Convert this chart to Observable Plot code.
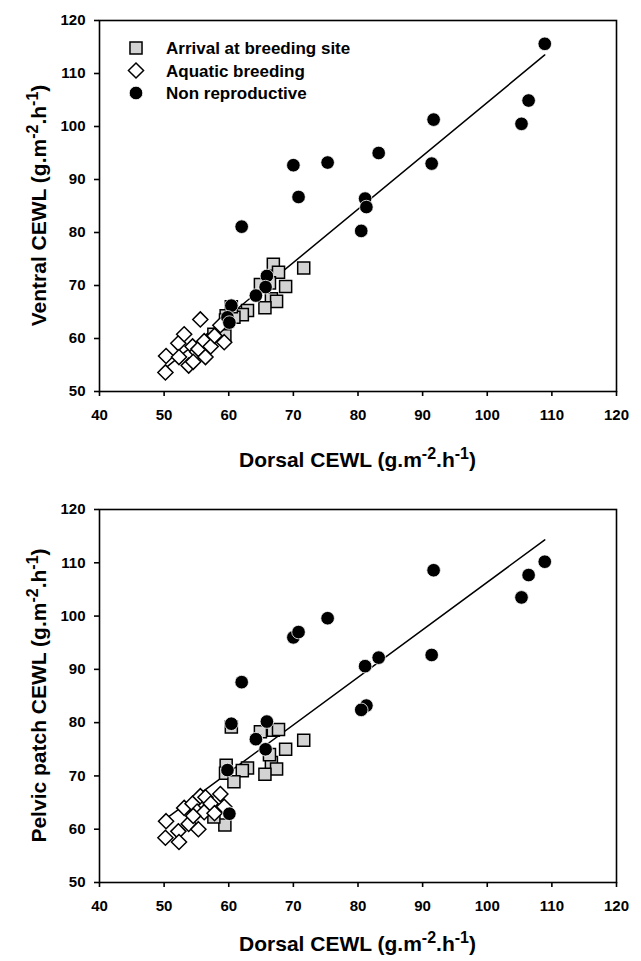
<!DOCTYPE html>
<html><head><meta charset="utf-8">
<script src="https://cdn.jsdelivr.net/npm/d3@7"></script>
<script src="https://cdn.jsdelivr.net/npm/@observablehq/plot@0.6"></script>
<style>body{margin:0;background:#fff;} svg{display:block}</style>
</head><body><div id="chart"></div>
<script>
// ---- data ----
const xTicks = [40, 50, 60, 70, 80, 90, 100, 110, 120];
const yTicks = [50, 60, 70, 80, 90, 100, 110, 120];
const seriesNames = ["Arrival at breeding site", "Aquatic breeding", "Non reproductive"];

const dorsalArr  = [66.9, 67.7, 64.9, 71.6, 68.8, 66.6, 67.4, 65.6, 62.9, 62.1, 59.6, 59.5, 60.8, 60.4, 59.4, 57.7, 66.3];
const ventralArr = [74.0, 72.5, 70.2, 73.3, 69.8, 67.5, 67.0, 65.8, 65.3, 64.5, 64.3, 63.5, 64.0, 66.0, 60.5, 60.8, 70.5];
const pelvicArr  = [78.6, 78.7, 78.3, 76.7, 75.0, 72.5, 71.3, 70.3, 71.5, 71.0, 72.0, 70.5, 68.9, 79.2, 60.8, 62.3, 74.0];

const dorsalAq  = [50.2, 50.3, 52.2, 52.3, 53.1, 53.8, 54.4, 55.1, 55.3, 55.6, 56.4, 56.2, 57.2, 57.8, 58.7, 59.3, 54.5];
const ventralAq = [53.6, 56.7, 59.1, 56.5, 60.8, 54.9, 58.5, 57.5, 58.0, 63.6, 56.5, 59.5, 58.5, 60.5, 62.5, 59.3, 55.6];
const pelvicAq  = [58.4, 61.5, 59.6, 57.6, 64.0, 61.0, 64.8, 63.3, 60.0, 66.2, 66.0, 63.2, 64.8, 63.0, 66.6, 64.2, 62.5];

const dorsalNR  = [108.9, 106.4, 105.3, 91.7, 91.4, 83.2, 81.1, 81.3, 80.5, 70.0, 70.8, 75.3, 62.0, 65.9, 65.7, 64.2, 60.4, 59.8, 60.1];
const ventralNR = [115.6, 104.9, 100.5, 101.3, 93.0, 95.0, 86.4, 84.8, 80.3, 92.7, 86.7, 93.2, 81.1, 71.8, 69.7, 68.1, 66.2, 64.0, 63.0];
const pelvicNR  = [110.2, 107.7, 103.5, 108.6, 92.7, 92.2, 90.6, 83.2, 82.4, 96.0, 97.0, 99.6, 87.6, 80.2, 75.0, 76.9, 79.8, 71.1, 62.9];

// regression line ends
const fitX = [50.3, 108.9];
const ventralFit = [54.5, 113.5];
const pelvicFit = [62.0, 114.3];

// ---- styles ----
const FONT = "'Liberation Sans', Arial, Helvetica, sans-serif";
const sq = {symbol: "square", r: 6.8, fill: "#d3d3d3", stroke: "black", strokeWidth: 1.5};
const dm = {symbol: "diamond2", r: 6.8, fill: "white", stroke: "black", strokeWidth: 1.5};
const ci = {symbol: "circle", r: 6.8, fill: "black", stroke: "white", strokeWidth: 0.8};

function pts(xs, ys) { return xs.map((x, i) => ({x, y: ys[i]})); }

function addTitle(svg, x, y, rotate, main) {
  const t = d3.select(svg).append("text")
    .attr("transform", `translate(${x},${y}) rotate(${rotate})`)
    .attr("text-anchor", "middle")
    .attr("font-family", FONT).attr("font-weight", "bold").attr("font-size", 21)
    .attr("fill", "black");
  t.append("tspan").text(main + " (g.m");
  t.append("tspan").attr("dy", -8).attr("font-size", 16).text("-2");
  t.append("tspan").attr("dy", 8).text(".h");
  t.append("tspan").attr("dy", -8).attr("font-size", 16).text("-1");
  t.append("tspan").attr("dy", 8).text(")");
}

function panel({yArr, yAq, yNR, yFit, yTitle, height, marginTop, marginBottom, titleGap, legend}) {
  const svg = Plot.plot({
    width: 641, height, marginTop, marginBottom, marginLeft: 99, marginRight: 25,
    x: {domain: [40, 120]},
    y: {domain: [50, 120]},
    style: {fontFamily: FONT, fontSize: "15px", fontWeight: "bold", color: "black", background: "white", overflow: "visible"},
    marks: [
      Plot.line(pts(fitX, yFit), {x: "x", y: "y", stroke: "black", strokeWidth: 1.5}),
      Plot.dot(pts(dorsalArr, yArr), {x: "x", y: "y", ...sq}),
      Plot.dot(pts(dorsalAq, yAq), {x: "x", y: "y", ...dm}),
      Plot.dot(pts(dorsalNR, yNR), {x: "x", y: "y", ...ci}),
      Plot.frame({stroke: "black", strokeWidth: 1.6}),
      Plot.axisX({ticks: xTicks, tickSize: 5, tickPadding: 13, label: null, stroke: "black", strokeWidth: 1.6, fontSize: 15, fontWeight: "bold"}),
      Plot.axisY({ticks: yTicks, tickSize: 5, tickPadding: 9, label: null, stroke: "black", strokeWidth: 1.6, fontSize: 15, fontWeight: "bold"})
    ]
  });
  const plotBottom = height - marginBottom;
  addTitle(svg, 99 + (641 - 99 - 25) / 2, plotBottom + titleGap, 0, "Dorsal CEWL");
  addTitle(svg, 46, marginTop + (plotBottom - marginTop) / 2, -90, yTitle);
  if (legend) {
    const g = d3.select(svg).append("g");
    const specs = [
      {type: d3.symbolSquare, o: sq},
      {type: d3.symbolDiamond2, o: dm},
      {type: d3.symbolCircle, o: ci}
    ];
    specs.forEach((s, i) => {
      const y = 48 + i * 22.5;
      g.append("path")
        .attr("d", d3.symbol(s.type, Math.PI * s.o.r * s.o.r)())
        .attr("transform", `translate(136,${y})`)
        .attr("fill", s.o.fill).attr("stroke", s.o.stroke).attr("stroke-width", s.o.strokeWidth);
      g.append("text").attr("x", 166).attr("y", y).attr("dy", "0.36em")
        .attr("text-anchor", "start")
        .attr("font-family", FONT).attr("font-weight", "bold").attr("font-size", 17)
        .attr("fill", "black").text(seriesNames[i]);
    });
  }
  return svg;
}

const root = document.getElementById("chart");
root.appendChild(panel({yArr: ventralArr, yAq: ventralAq, yNR: ventralNR, yFit: ventralFit,
  yTitle: "Ventral CEWL", height: 480, marginTop: 20, marginBottom: 89, titleGap: 76, legend: true}));
root.appendChild(panel({yArr: pelvicArr, yAq: pelvicAq, yNR: pelvicNR, yFit: pelvicFit,
  yTitle: "Pelvic patch CEWL", height: 481, marginTop: 29, marginBottom: 79, titleGap: 69, legend: false}));
</script>
</body></html>
